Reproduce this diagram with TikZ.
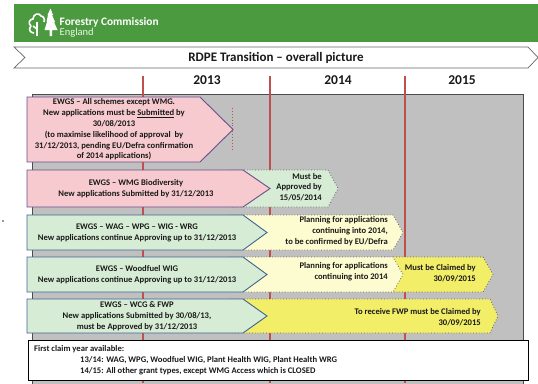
\documentclass[tikz,border=0pt]{standalone}
\usepackage{fontspec}
\setmainfont{Carlito}
\definecolor{fcgreen}{RGB}{76,154,63}
\definecolor{pinkfill}{RGB}{246,202,206}
\definecolor{greenfill}{RGB}{214,236,212}
\definecolor{lyellow}{RGB}{253,251,208}
\definecolor{byellow}{RGB}{242,238,104}
\definecolor{grayfill}{RGB}{192,192,192}
\definecolor{redline}{RGB}{192,80,77}
\definecolor{pinkborder}{RGB}{104,80,140}
\definecolor{greenborder}{RGB}{62,100,150}
\definecolor{txt}{RGB}{25,25,25}
\begin{document}
\begin{tikzpicture}[x=1pt,y=-1pt,
  pinkbox/.style={fill=pinkfill,draw=pinkborder,line width=0.9pt},
  greenbox/.style={fill=greenfill,draw=greenborder,line width=0.9pt},
  lyext/.style={fill=lyellow,draw=gray!75!black,dotted,line width=0.8pt},
  byext/.style={fill=byellow,draw=gray!75!black,dotted,line width=0.8pt},
  gext/.style={fill=greenfill,draw=gray!75!black,dotted,line width=0.8pt},
  boxtext/.style={font=\fontsize{8.6}{10.8}\selectfont\bfseries,align=center,inner sep=0pt,text=txt},
  rtext/.style={boxtext,align=right,anchor=east},
  yeartext/.style={font=\fontsize{13.5}{15}\selectfont\bfseries,inner sep=0pt,text=txt},
  redrule/.style={draw=redline,line width=1.4pt}]
\useasboundingbox (0,0) rectangle (538,383);
\fill[white] (0,0) rectangle (538,383);
% banner
\fill[fcgreen] (14,4) rectangle (538,42);
% logo: deciduous tree outline
\draw[white,line width=1.6pt,line join=round]
  (34,33) .. controls (30,33) and (28,29) .. (31,26)
  .. controls (28,24) and (29,19) .. (33,19)
  .. controls (33,14) and (39,12) .. (41,16)
  .. controls (44,16) and (45,20) .. (44,22);
\draw[white,line width=1.6pt] (37,22) -- (37,36);
\draw[white,line width=1.6pt] (37,29) -- (33,26);
% conifer
\fill[white] (50.5,8.5) -- (53,15) -- (52,15) -- (55,22) -- (54,22) -- (57.5,30) -- (52,30) -- (52,36) -- (49.5,36) -- (49.5,30) -- (44.5,30) -- (47,22) -- (46.5,22) -- (48,15) -- (47.5,15) -- cycle;
\node[anchor=west,inner sep=0pt,text=white,font=\fontsize{11.4}{13}\selectfont\bfseries] (fc) at (59.5,22) {Forestry Commission};
\node[anchor=west,inner sep=0pt,text=white!90!fcgreen,font=\fontsize{10.5}{12}\selectfont] (eng) at (59.5,32.5) {England};
% title arrow
\draw[fill=white,draw=gray!80!black,line width=0.7pt] (14,47) -- (528,47) -- (538,57.5) -- (528,68) -- (14,68) -- (25,57.5) -- cycle;
\node[font=\fontsize{13}{15}\selectfont\bfseries,inner sep=0pt,text=txt] (title) at (276,58) {RDPE Transition -- overall picture};
% years
\node[yeartext] (y13) at (207,80) {2013};
\node[yeartext] (y14) at (338,80) {2014};
\node[yeartext] (y15) at (462,80) {2015};
% gray area
\draw[fill=grayfill,draw=gray!60!black,line width=0.7pt] (32,94) rectangle (523,386);
% red lines
\draw[redrule] (143,76) -- (143,383);
\draw[redrule] (270,76) -- (270,383);
\draw[redrule] (405,76) -- (405,383);
% row 1
\draw[pinkbox] (27,97) -- (200,97) -- (233,129.5) -- (200,162) -- (27,162) -- cycle;
\draw[draw=redline,dotted,line width=0.9pt] (232,108) -- (232,150);
\node[boxtext] (r1) at (114,129.5) {EWGS -- All schemes except WMG.\\New applications must be \underline{Submitted} by\\30/08/2013\\(to maximise likelihood of approval~ by\\31/12/2013, pending EU/Defra confirmation\\of 2014 applications)};
% row 2
\draw[gext] (230,170) -- (328,170) -- (338,188.5) -- (328,207) -- (230,207) -- cycle;
\draw[pinkbox] (27,170) -- (243,170) -- (270,188.5) -- (243,207) -- (27,207) -- cycle;
\node[boxtext] (r2) at (136,188.5) {EWGS -- WMG Biodiversity\\New applications Submitted by 31/12/2013};
\node[rtext] (r2e) at (322,187) {Must be\\Approved by\\15/05/2014};
% row 3
\draw[lyext] (230,215) -- (393,215) -- (403,232.5) -- (393,250) -- (230,250) -- cycle;
\draw[greenbox] (27,215) -- (243,215) -- (267,232.5) -- (243,250) -- (27,250) -- cycle;
\node[boxtext] (r3) at (137,233) {EWGS -- WAG -- WPG -- WIG - WRG\\New applications continue Approving up to 31/12/2013};
\node[rtext] (r3e) at (388,231) {Planning for applications\\continuing into 2014,\\to be confirmed by EU/Defra};
% row 4
\draw[byext] (385,257) -- (483,257) -- (493,274.5) -- (483,292) -- (385,292) -- cycle;
\draw[lyext] (230,257) -- (393,257) -- (403,274.5) -- (393,292) -- (230,292) -- cycle;
\draw[greenbox] (27,257) -- (243,257) -- (267,274.5) -- (243,292) -- (27,292) -- cycle;
\node[boxtext] (r4) at (137,275) {EWGS -- Woodfuel WIG\\New applications continue Approving up to 31/12/2013};
\node[rtext] (r4e) at (388,271.5) {Planning for applications\\continuing into 2014};
\node[rtext] (r4f) at (476,273) {Must be Claimed by\\30/09/2015};
% row 5
\draw[byext] (230,299) -- (490,299) -- (498,316) -- (490,333) -- (230,333) -- cycle;
\draw[greenbox] (27,299) -- (243,299) -- (267,316) -- (243,333) -- (27,333) -- cycle;
\node[boxtext] (r5) at (137,316.5) {EWGS -- WCG \& FWP\\New applications Submitted by 30/08/13,\\must be Approved by 31/12/2013};
\node[rtext] (r5e) at (481,317) {To receive FWP must be Claimed by\\30/09/2015};
% text box
\draw[fill=white,draw=black,line width=0.9pt] (28,340) rectangle (528,380);
\node[boxtext,anchor=west] (t1) at (34,349) {First claim year available:};
\node[boxtext,anchor=west] (t2) at (80,360) {13/14: WAG, WPG, Woodfuel WIG, Plant Health WIG, Plant Health WRG};
\node[boxtext,anchor=west] (t3) at (80,371) {14/15: All other grant types, except WMG Access which is CLOSED};
% stray dot
\fill[black!80] (3,221) circle (0.9);
\end{tikzpicture}
\end{document}
